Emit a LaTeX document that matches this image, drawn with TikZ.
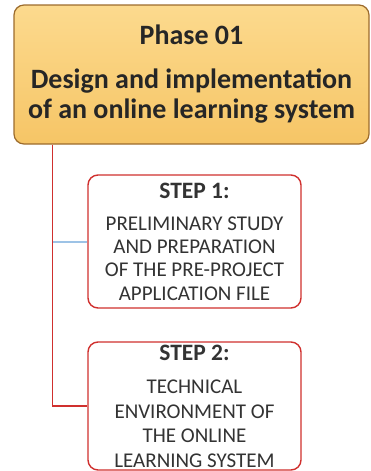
\documentclass[tikz,border=0pt]{standalone}
\usepackage{fontspec}
\setmainfont{Carlito}
\usetikzlibrary{positioning}

\definecolor{phasefill}{HTML}{FCDA8E}
\definecolor{phasefilldark}{HTML}{F6C566}
\definecolor{phaseedge}{HTML}{9C6B2C}
\definecolor{stepred}{HTML}{D0302E}
\definecolor{linkblue}{HTML}{9DC3E6}

\tikzset{
  phasebox/.style = {draw = phaseedge, line width = 1.2pt, rounded corners = 10pt,
    top color = phasefill, bottom color = phasefilldark,
    minimum width = 355pt, minimum height = 139pt, align = center,
    inner sep = 0pt, text = black!85,
    font = \fontsize{28}{30}\selectfont\bfseries},
  stepbox/.style = {draw = stepred, line width = 1.4pt, rounded corners = 10pt, fill = white,
    minimum width = 213pt, align = center, inner sep = 0pt, text = black!80,
    font = \fontsize{21}{23.3}\selectfont},
  redlink/.style = {draw = stepred, line width = 1.6pt},
  bluelink/.style = {draw = linkblue, line width = 2pt}
}
\newcommand{\steptitle}[1]{{\bfseries\fontsize{23.5}{24}\selectfont #1}}

\begin{document}
\begin{tikzpicture} [x = 1pt, y = -1pt, node distance = 164.5pt, on grid]

\useasboundingbox (0,0) rectangle (370,471);

\node (phase) [phasebox] at (191.5,74.5)
  {Phase 01\\[14pt]
   Design and implementation\\
   of an online learning system};
\node (step1) [stepbox, minimum height = 133pt] at (194.5,241.5)
  {\steptitle{STEP 1:}\\[9pt]
   PRELIMINARY STUDY\\
   AND PREPARATION\\
   OF THE PRE-PROJECT\\
   APPLICATION FILE};
\node (step2) [stepbox, minimum height = 128pt, below = of step1,
               font = \fontsize{21}{24.5}\selectfont]
  {\steptitle{STEP 2:}\\[9pt]
   TECHNICAL\\
   ENVIRONMENT OF\\
   THE ONLINE\\
   LEARNING SYSTEM};

\coordinate (trunk) at (52.5,0);

\path [bluelink]
    (step1.west) -- (step1.west -| trunk);
\path [redlink]
    (phase.south -| trunk) |- (step2.west);
\end{tikzpicture}
\end{document}
